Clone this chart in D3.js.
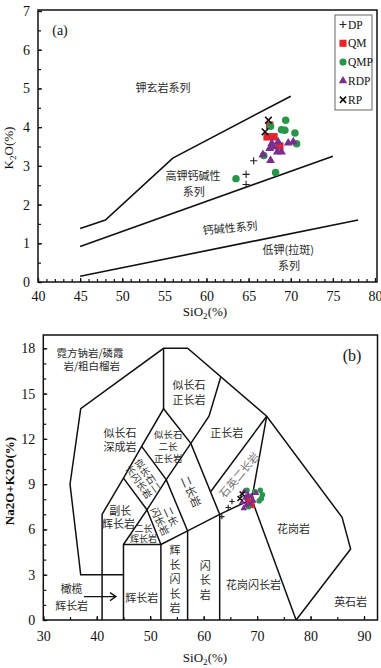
<!DOCTYPE html>
<html>
<head>
<meta charset="utf-8">
<script src="https://cdn.jsdelivr.net/npm/d3@7"></script>
<style>
body { margin:0; background:#fff; }
text { font-family: "Liberation Serif", serif; }
.cn { font-family: "Noto Sans CJK SC", sans-serif; fill:#2a2a2a; }
</style>
</head>
<body>
<div id="chart"></div>
<script>
// ---- data: diagram (a) SiO2 vs K2O ----
const dpA  = [[65.6,3.13],[64.7,2.78],[64.7,2.52]];
const qmA  = [[67.5,4.05],[67.2,3.75],[68.0,3.75],[68.7,3.51]];
const qmpA = [[67.6,4.02],[69.4,4.18],[68.9,3.93],[69.3,3.92],[70.5,3.85],[70.7,3.57],[66.8,3.27],[68.2,2.83],[63.5,2.67]];
const rdpA = [[67.75,3.58],[68.5,3.62],[67.5,3.45],[68.4,3.36],[68.9,3.36],[66.7,3.29],[69.7,3.59],[70.3,3.62],[67.6,3.14],[68.0,3.49]];
const rpA  = [[67.35,4.18],[66.95,3.88]];

// boundary lines (a)
const shoLine = [[45,1.38],[48,1.6],[56,3.2],[70,4.8]];
const hkLine  = [[45,0.92],[75,3.25]];
const lkLine  = [[45,0.15],[78,1.6]];

// ---- data: diagram (b) TAS ----
const dpB  = [[63.4,6.85],[64.6,7.45],[65.3,7.85]];
const qmB  = [[69.0,7.6],[68.6,7.85],[68.2,8.05]];
const qmpB = [[70.6,8.6],[71.0,8.3],[68.1,8.6],[68.4,7.5],[70.4,7.9],[69.6,8.5],[70.8,8.05]];
const rdpB = [[67.5,7.4],[67.2,7.8],[67.8,8.1],[68.3,8.3],[68.9,8.2],[69.3,7.9],[68.6,7.7],[67.6,8.5],[69.8,8.4],[68.0,7.6]];
const rpB  = [[67.2,8.35],[66.8,8.05]];

const tasOuter = [[45,3],[37,3],[35,9],[37,14],[52.5,18],[57,18],[71.8,13.5],[85.9,6.8],[87.5,4.7],[77.3,0]];
const tasLines = [
  [[41,0],[41,7],[45,9.4],[48.4,11.5],[52.5,14],[52.5,18]],
  [[45,0],[45,5],[52,5],[52,0]],
  [[45,5],[49.4,7.3],[52,5]],
  [[45,9.4],[49.4,7.3],[53,9.3],[57.6,11.7],[61,13.5],[63.2,16.1]],
  [[48.4,11.5],[53,9.3],[57,5.9]],
  [[52.5,14],[57.6,11.7],[63,7]],
  [[52,5],[57,5.9],[63,7],[69,8],[71.8,13.5]],
  [[57,0],[57,5.9]],
  [[63,0],[63,7]],
  [[69,8],[77.3,0]],
  [[61.3,8.5],[71.8,13.5]]
];

const xTicksA = [40,45,50,55,60,65,70,75,80];
const yTicksA = [0,1,2,3,4,5,6,7];
const xTicksB = [30,40,50,60,70,80,90];
const yTicksB = [0,3,6,9,12,15,18];

const series = [
  {name:'DP',  a:dpA,  b:dpB,  type:'plus'},
  {name:'QM',  a:qmA,  b:qmB,  type:'square'},
  {name:'QMP', a:qmpA, b:qmpB, type:'circle'},
  {name:'RDP', a:rdpA, b:rdpB, type:'triangle'},
  {name:'RP',  a:rpA,  b:rpB,  type:'x'}
];
const colors = {plus:'#222', square:'#e8242b', circle:'#27964a', triangle:'#7a2f8f', x:'#111'};

const svg = d3.select('#chart').append('svg')
  .attr('width', 381).attr('height', 668);

function marker(sel, type, k) {
  // k scales the symbol size
  if (type === 'plus') {
    const s = 3.6 * k;
    sel.attr('d', `M${-s},0H${s}M0,${-s}V${s}`).attr('fill','none')
      .attr('stroke', colors.plus).attr('stroke-width', 1.1);
  } else if (type === 'x') {
    const s = 3.3 * k;
    sel.attr('d', `M${-s},${-s}L${s},${s}M${-s},${s}L${s},${-s}`).attr('fill','none')
      .attr('stroke', colors.x).attr('stroke-width', 1.6);
  } else {
    const sym = {square:d3.symbolSquare, circle:d3.symbolCircle, triangle:d3.symbolTriangle}[type];
    const size = {square:56, circle:44, triangle:34}[type] * k * k;
    sel.attr('d', d3.symbol().type(sym).size(size)).attr('fill', colors[type]);
  }
}

function drawAxes(g, x, y, xMinor, yMinor, xTicks, yTicks, frame, xPad) {
  const [x0, x1, y0, y1] = frame;
  g.append('g').attr('transform', `translate(0,${y0})`)
    .call(d3.axisBottom(x).tickValues(xMinor).tickSize(-3).tickFormat(''))
    .call(a => a.select('.domain').remove());
  g.append('g').attr('transform', `translate(0,${y0})`)
    .call(d3.axisBottom(x).tickValues(xTicks).tickSize(-4).tickPadding(xPad).tickFormat(d3.format('d')))
    .call(a => a.select('.domain').remove());
  g.append('g').attr('transform', `translate(${x0},0)`)
    .call(d3.axisLeft(y).tickValues(yMinor).tickSize(-3).tickFormat(''))
    .call(a => a.select('.domain').remove());
  g.append('g').attr('transform', `translate(${x0},0)`)
    .call(d3.axisLeft(y).tickValues(yTicks).tickSize(-4).tickPadding(8).tickFormat(d3.format('d')))
    .call(a => a.select('.domain').remove());
  g.selectAll('.tick text').style('font-size', '14px')
    .style('font-family', '"Liberation Serif", serif').attr('fill', '#111');
  g.selectAll('.tick line').attr('stroke', '#111').attr('stroke-width', 1.2);
  g.append('rect').attr('x', x0).attr('y', y1).attr('width', x1 - x0).attr('height', y0 - y1)
    .attr('fill', 'none').attr('stroke', '#111').attr('stroke-width', 1.5);
}

function cnText(g, str, px, py, size, rot, fill) {
  const t = g.append('text').attr('class', 'cn')
    .attr('x', px).attr('y', py).attr('dy', '0.35em')
    .attr('text-anchor', 'middle').style('font-size', size + 'px').text(str);
  if (rot) t.attr('transform', `rotate(${rot},${px},${py})`);
  if (fill) t.style('fill', fill);
  return t;
}

function subLabel(g, px, py, a, b, c, size, rot) {
  const t = g.append('text').attr('x', px).attr('y', py).attr('text-anchor', 'middle')
    .style('font-size', size + 'px').attr('fill', '#111');
  if (rot) t.attr('transform', `rotate(${rot},${px},${py})`);
  t.append('tspan').text(a);
  t.append('tspan').style('font-size', (size * 0.7) + 'px').attr('dy', 3).text(b);
  t.append('tspan').attr('dy', -3).text(c);
}

// ================= (a) =================
const gA = svg.append('g');
const xA = d3.scaleLinear().domain([40, 80]).range([38, 375]);
const yA = d3.scaleLinear().domain([0, 7]).range([282, 11]);
drawAxes(gA, xA, yA, d3.range(40, 81, 1), d3.range(0, 7.01, 0.5), xTicksA, yTicksA, [38, 377, 282, 10], 9);

const lineA = d3.line().x(d => xA(d[0])).y(d => yA(d[1]));
[shoLine, hkLine, lkLine].forEach(l => {
  gA.append('path').attr('d', lineA(l)).attr('fill', 'none')
    .attr('stroke', '#111').attr('stroke-width', 1.6);
});

cnText(gA, '钾玄岩系列', xA(54.85), yA(5.0), 11);
cnText(gA, '高钾钙碱性', xA(58.4), yA(2.73), 11);
cnText(gA, '系列', xA(58.5), yA(2.31), 11);
cnText(gA, '钙碱性系列', xA(62.8), yA(1.39), 11, -5);
cnText(gA, '低钾(拉斑)', xA(69.7), yA(0.82), 11);
cnText(gA, '系列', xA(69.8), yA(0.41), 11);
gA.append('text').attr('x', 60).attr('y', 30).attr('dy', '0.35em').attr('text-anchor', 'middle')
  .style('font-size', '14px').attr('fill', '#111').text('(a)');

series.forEach(s => {
  gA.append('g').selectAll('path').data(s.a).join('path')
    .attr('transform', d => `translate(${xA(d[0])},${yA(d[1])})`)
    .call(sel => marker(sel, s.type, 1));
});

// legend
const leg = gA.append('g');
leg.append('rect').attr('x', 335).attr('y', 15).attr('width', 37).attr('height', 95)
  .attr('fill', '#fff').attr('stroke', '#666').attr('stroke-width', 1);
series.forEach((s, i) => {
  const ly = 24.5 + i * 18.8;
  leg.append('path').attr('transform', `translate(343,${ly})`).call(sel => marker(sel, s.type, 0.95));
  leg.append('text').attr('x', 348).attr('y', ly).attr('dy', '0.35em')
    .style('font-size', '11.5px').attr('fill', '#111').text(s.name);
});

subLabel(gA, 205, 316, 'SiO', '2', '(%)', 13);
subLabel(gA, 13, 148, 'K', '2', 'O(%)', 13, -90);

// ================= (b) =================
const gB = svg.append('g');
const xB = d3.scaleLinear().domain([30, 90]).range([43.3, 364]);
const yB = d3.scaleLinear().domain([0, 18]).range([620, 348.3]);
drawAxes(gB, xB, yB, d3.range(30, 91, 5), d3.range(0, 18.01, 1), xTicksB, yTicksB, [43.3, 377.5, 620, 335], 11);

const lineB = d3.line().x(d => xB(d[0])).y(d => yB(d[1]));
[tasOuter, ...tasLines].forEach(l => {
  gB.append('path').attr('d', lineB(l)).attr('fill', 'none')
    .attr('stroke', '#111').attr('stroke-width', 1.5).attr('stroke-linejoin', 'miter');
});

// arrow for peridotgabbro
const ax0 = xB(37.6), ax1 = xB(43.6), ay = yB(1.55);
gB.append('path').attr('d', `M${ax0},${ay}L${ax1},${ay}M${ax1 - 6},${ay - 4}L${ax1},${ay}L${ax1 - 6},${ay + 4}`)
  .attr('fill', 'none').attr('stroke', '#111').attr('stroke-width', 1.3);

cnText(gB, '霓方钠岩/磷霞', xB(38.75), yB(17.66), 10.5);
cnText(gB, '岩/粗白榴岩', xB(39.06), yB(16.8), 10.5);
cnText(gB, '似长石', xB(57.28), yB(15.56), 11);
cnText(gB, '正长岩', xB(57.28), yB(14.57), 11);
cnText(gB, '似长石', xB(44.36), yB(12.36), 11);
cnText(gB, '深成岩', xB(44.36), yB(11.48), 11);
cnText(gB, '似长石', xB(53.4), yB(12.25), 9.5);
cnText(gB, '二长', xB(53.35), yB(11.48), 9.5);
cnText(gB, '正长岩', xB(53.4), yB(10.71), 9.5);
cnText(gB, '正长岩', xB(64.34), yB(12.36), 11);
{
  const g1 = gB.append('g').attr('transform', `translate(${xB(48.7)},${yB(9.35)}) rotate(55)`);
  cnText(g1, '似长石二', 0, -5.5, 9.5);
  cnText(g1, '长闪长岩', 0, 5.5, 9.5);
  const g2 = gB.append('g').attr('transform', `translate(${xB(52.8)},${yB(6.69)}) rotate(65)`);
  cnText(g2, '二长', 0, -6, 10);
  cnText(g2, '闪长岩', 0, 6, 10);
}
cnText(gB, '石英二长岩', xB(66.68), yB(9.6), 11, -50, '#777');
cnText(gB, '二长岩', xB(57.6), yB(8.5), 11, 66);
cnText(gB, '副长', xB(44.38), yB(7.24), 11);
cnText(gB, '辉长岩', xB(44.05), yB(6.36), 11);
cnText(gB, '二长', xB(48.73), yB(6.07), 9);
cnText(gB, '辉长岩', xB(48.73), yB(5.36), 9);
cnText(gB, '辉长岩', xB(48.43), yB(1.48), 11);
cnText(gB, '橄榄', xB(35.3), yB(2.03), 11);
cnText(gB, '辉长岩', xB(35.3), yB(0.93), 11);
'辉长闪长岩'.split('').forEach((c, i) => cnText(gB, c, xB(54.66), yB(4.61) + i * 14.5, 11));
'闪长岩'.split('').forEach((c, i) => cnText(gB, c, xB(60.28), yB(3.55) + i * 14.2, 11));
cnText(gB, '花岗闪长岩', xB(69.33), yB(2.32), 11);
cnText(gB, '花岗岩', xB(76.82), yB(6.01), 11);
cnText(gB, '英石岩', xB(87.5), yB(1.21), 11);
gB.append('text').attr('x', xB(87.75)).attr('y', yB(17.55)).attr('dy', '0.35em')
  .attr('text-anchor', 'middle').style('font-size', '16px').attr('fill', '#111').text('(b)');

series.forEach(s => {
  gB.append('g').selectAll('path').data(s.b).join('path')
    .attr('transform', d => `translate(${xB(d[0])},${yB(d[1])})`)
    .call(sel => marker(sel, s.type, 0.75));
});

subLabel(gB, 205, 662, 'SiO', '2', '(%)', 13);
gB.append('text').attr('x', 14).attr('y', 481).attr('text-anchor', 'middle')
  .style('font-size', '13px').attr('font-weight', 'bold').attr('fill', '#111')
  .attr('transform', 'rotate(-90,14,481)').text('Na2O+K2O(%)');
</script>
</body>
</html>
